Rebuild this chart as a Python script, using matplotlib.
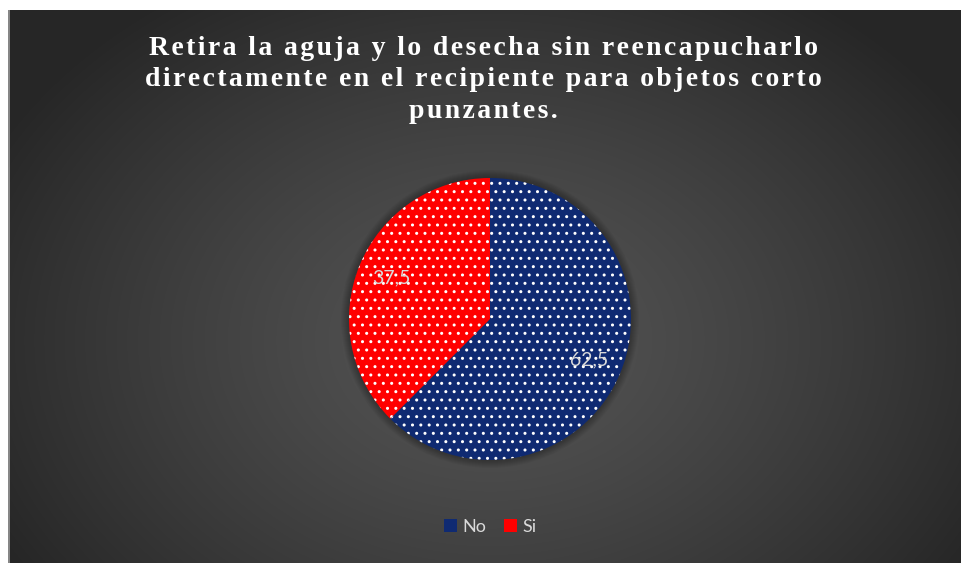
import matplotlib
matplotlib.use('Agg')
import matplotlib.pyplot as plt
import numpy as np
from matplotlib.patches import Patch, Circle

W, H = 961, 563
DPI = 100

title_lines = ["Retira la aguja y lo desecha sin reencapucharlo",
               "directamente en el recipiente para objetos corto",
               "punzantes."]
labels = ["No", "Si"]
values = [62.5, 37.5]
colors = ["#0f2a72", "#ff0000"]

fig = plt.figure(figsize=(W / DPI, H / DPI), dpi=DPI, facecolor="white")

# dark panel with a soft radial gradient
left, top = 8, 10
bg = fig.add_axes([left / W, 0, 1 - left / W, 1 - top / H])
yy, xx = np.mgrid[0:H - top, 0:W - left]
cx, cy = 482, 330
r = np.sqrt(((xx - cx) / 560.0) ** 2 + ((yy - cy) / 420.0) ** 2)
r = np.clip(r, 0, 1)
shade = 0.33 - 0.18 * r ** 1.3
img = np.dstack([shade, shade, shade])
bg.imshow(img, aspect="auto", extent=(0, 1, 0, 1), interpolation="bilinear")
bg.axvline(0.001, color="#9a9a9a", lw=1.2)
bg.set_axis_off()

# spaced-out serif title (hair spaces between letters)
spaced = "\n".join("\u200a".join(line) for line in title_lines)
fig.text(0.503, 1 - 36 / H, spaced, ha="center", va="top", color="white",
         family="Liberation Serif", weight="bold", fontsize=20,
         linespacing=1.33)

# pie
pr = 141
pcx, pcy = 490, 319
ax = fig.add_axes([0, 0, 1, 1])
for k in range(8):
    ax.add_patch(Circle((0, 0), 1.0 + 0.007 * (k + 1), color="black",
                        alpha=0.035, lw=0, zorder=0))
plt.rcParams["hatch.linewidth"] = 1.0
wedges, texts, autotexts = ax.pie(
    values, colors=colors, startangle=90, counterclock=False,
    autopct=lambda p: f"{p:.1f}".replace(".", ","), pctdistance=0.76,
    wedgeprops=dict(edgecolor="white", linewidth=0, hatch=".."),
    textprops=dict(color="#d9d9d9", family="Lato", fontsize=14))
lim = 1.08
ax.set_xlim(-lim, lim)
ax.set_ylim(-lim, lim)
ax.set_aspect("equal")
ax.set_axis_off()
ext = pr * lim
ax.set_position([(pcx - ext) / W, 1 - (pcy + ext) / H, 2 * ext / W, 2 * ext / H])

handles = [Patch(facecolor=c, edgecolor="none") for c in colors]
fig.legend(handles, labels, loc="center", bbox_to_anchor=(0.51, 1 - 527 / H),
           ncol=2, frameon=False, handlelength=0.7, handleheight=0.7,
           handletextpad=0.3, columnspacing=1.0,
           prop=dict(family="Lato", size=13), labelcolor="#d9d9d9")

fig.savefig("out.png", dpi=DPI)
